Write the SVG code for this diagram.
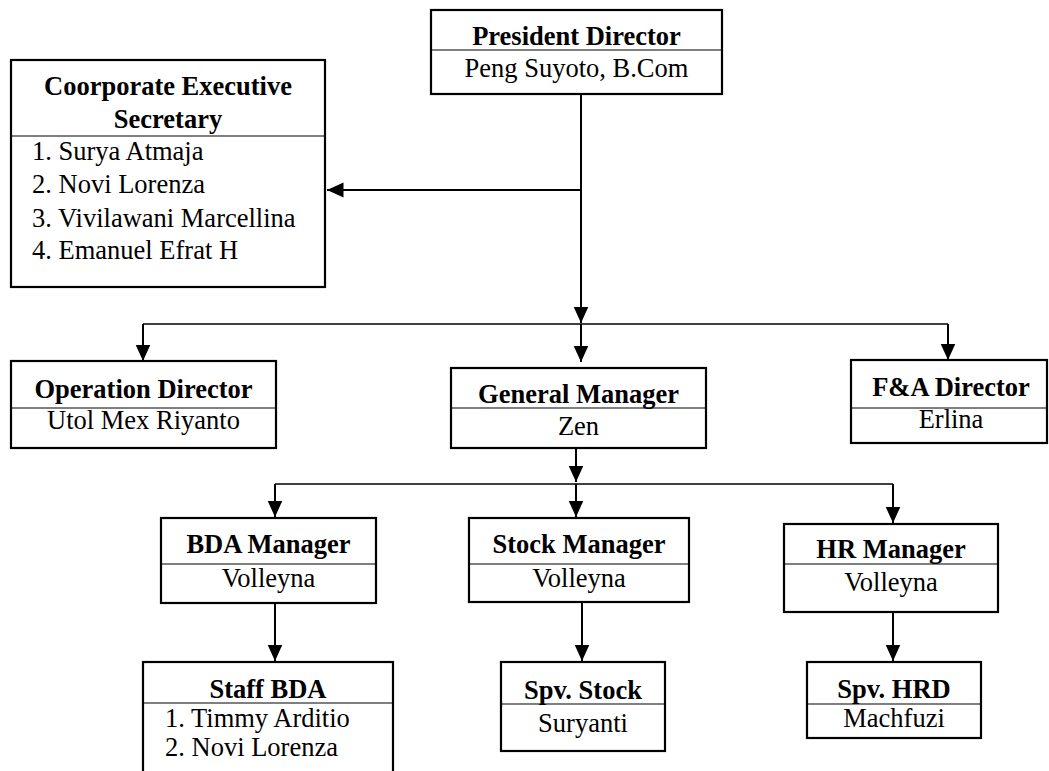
<svg xmlns="http://www.w3.org/2000/svg" width="1049" height="771" viewBox="0 0 1049 771">
<style>
.box{fill:#fff;stroke:#000;stroke-width:2.2}
.div{stroke:#000;stroke-width:1.2}
.t{font-family:"Liberation Serif","Times New Roman",serif;font-size:26.5px;font-weight:bold;text-anchor:middle;fill:#000}
.n{font-family:"Liberation Serif","Times New Roman",serif;font-size:26.5px;text-anchor:middle;fill:#000}
.l{font-family:"Liberation Serif","Times New Roman",serif;font-size:26.5px;fill:#000}
.c{fill:none;stroke:#000;stroke-width:2}
.bus{fill:none;stroke:#000;stroke-width:1.5}
</style>
<defs>
<marker id="ah" markerUnits="userSpaceOnUse" markerWidth="18" markerHeight="16" refX="16.5" refY="8" orient="auto">
<path d="M0,0.5 L16.5,8 L0,15.5 z" fill="#000"/>
</marker>
</defs>
<rect width="1049" height="771" fill="#fff"/>
<g id="connectors">
<path class="c" d="M581,94 V323" marker-end="url(#ah)"/>
<path class="c" d="M581,190 H327" marker-end="url(#ah)"/>
<path class="c" d="M581,324 V362" marker-end="url(#ah)"/>
<path class="bus" d="M143,324 H948"/>
<path class="c" d="M143,324 V361" marker-end="url(#ah)"/>
<path class="c" d="M948,324 V360" marker-end="url(#ah)"/>
<path class="c" d="M576,448 V482" marker-end="url(#ah)"/>
<path class="bus" d="M275,484 H893"/>
<path class="c" d="M275,484 V517" marker-end="url(#ah)"/>
<path class="c" d="M576,484 V517" marker-end="url(#ah)"/>
<path class="c" d="M893,484 V523" marker-end="url(#ah)"/>
<path class="c" d="M275,603 V661" marker-end="url(#ah)"/>
<path class="c" d="M582,602 V661" marker-end="url(#ah)"/>
<path class="c" d="M893,612 V661" marker-end="url(#ah)"/>
</g>
<g id="president">
<rect class="box" x="431" y="10" width="291" height="84"/>
<line class="div" x1="431" y1="50" x2="722" y2="50"/>
<text class="t" x="576.5" y="45">President Director</text>
<text class="n" x="576.5" y="77">Peng Suyoto, B.Com</text>
</g>
<g id="secretary">
<rect class="box" x="11" y="60" width="314" height="227"/>
<line class="div" x1="11" y1="136" x2="325" y2="136"/>
<text class="t" x="168" y="95">Coorporate Executive</text>
<text class="t" x="168" y="128">Secretary</text>
<text class="l" x="32" y="160">1. Surya Atmaja</text>
<text class="l" x="32" y="193">2. Novi Lorenza</text>
<text class="l" x="32" y="227">3. Vivilawani Marcellina</text>
<text class="l" x="32" y="259">4. Emanuel Efrat H</text>
</g>
<g id="operation">
<rect class="box" x="11" y="361" width="265" height="87"/>
<line class="div" x1="11" y1="408" x2="276" y2="408"/>
<text class="t" x="143.5" y="398">Operation Director</text>
<text class="n" x="143.5" y="429">Utol Mex Riyanto</text>
</g>
<g id="gm">
<rect class="box" x="451" y="368" width="255" height="80"/>
<line class="div" x1="451" y1="408" x2="706" y2="408"/>
<text class="t" x="578.5" y="403">General Manager</text>
<text class="n" x="578.5" y="435">Zen</text>
</g>
<g id="fa">
<rect class="box" x="851" y="360" width="196" height="83"/>
<line class="div" x1="851" y1="408" x2="1047" y2="408"/>
<text class="t" x="951" y="396">F&amp;A Director</text>
<text class="n" x="951" y="428">Erlina</text>
</g>
<g id="bda">
<rect class="box" x="161" y="518" width="215" height="85"/>
<line class="div" x1="161" y1="564" x2="376" y2="564"/>
<text class="t" x="268.5" y="553">BDA Manager</text>
<text class="n" x="268.5" y="587">Volleyna</text>
</g>
<g id="stock">
<rect class="box" x="469" y="518" width="220" height="84"/>
<line class="div" x1="469" y1="564" x2="689" y2="564"/>
<text class="t" x="579" y="553">Stock Manager</text>
<text class="n" x="579" y="587">Volleyna</text>
</g>
<g id="hr">
<rect class="box" x="784" y="524" width="214" height="88"/>
<line class="div" x1="784" y1="564" x2="998" y2="564"/>
<text class="t" x="891" y="558">HR Manager</text>
<text class="n" x="891" y="591">Volleyna</text>
</g>
<g id="staffbda">
<rect class="box" x="143" y="662" width="250" height="130"/>
<line class="div" x1="143" y1="703" x2="393" y2="703"/>
<text class="t" x="268" y="698">Staff BDA</text>
<text class="l" x="165" y="727">1. Timmy Arditio</text>
<text class="l" x="165" y="756">2. Novi Lorenza</text>
</g>
<g id="spvstock">
<rect class="box" x="501" y="662" width="164" height="89"/>
<line class="div" x1="501" y1="704" x2="665" y2="704"/>
<text class="t" x="583" y="699">Spv. Stock</text>
<text class="n" x="583" y="732">Suryanti</text>
</g>
<g id="spvhrd">
<rect class="box" x="807" y="662" width="174" height="76"/>
<line class="div" x1="807" y1="704" x2="981" y2="704"/>
<text class="t" x="894" y="698">Spv. HRD</text>
<text class="n" x="894" y="727">Machfuzi</text>
</g>
</svg>
